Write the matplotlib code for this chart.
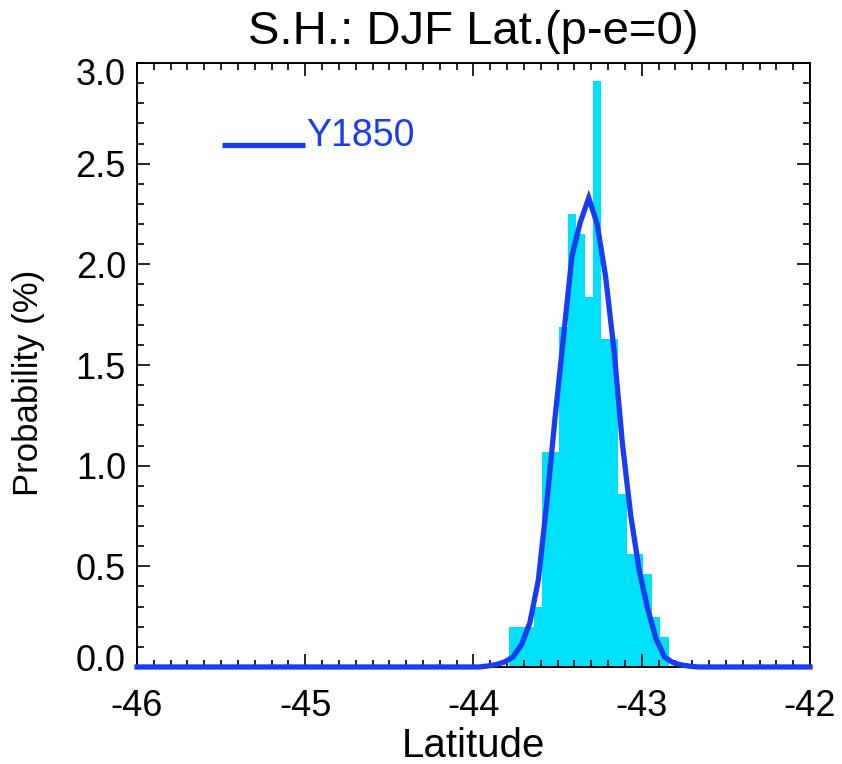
import matplotlib
matplotlib.use("Agg")
import matplotlib.pyplot as plt
from matplotlib.ticker import MultipleLocator
from matplotlib.transforms import ScaledTranslation
import numpy as np

plt.rcParams['font.family'] = ['Liberation Sans', 'DejaVu Sans']

# ---- data ----
bin_left_edges = [-43.79, -43.74, -43.69, -43.64, -43.59, -43.54, -43.49, -43.44,
                  -43.39, -43.34, -43.29, -43.24, -43.19, -43.14, -43.09, -43.04,
                  -42.99, -42.94, -42.89]
bin_width = 0.05
hist_prob = [0.20, 0.20, 0.20, 0.30, 1.07, 1.07, 1.69, 2.25,
             2.15, 1.84, 2.91, 1.63, 1.63, 0.86, 0.56, 0.56,
             0.46, 0.25, 0.15]

curve_lat = [-46.0, -43.965, -43.915, -43.865, -43.815, -43.765, -43.715, -43.665,
             -43.615, -43.565, -43.515, -43.465, -43.415, -43.365, -43.315,
             -43.265, -43.215, -43.165, -43.115, -43.065, -43.015, -42.965,
             -42.915, -42.865, -42.815, -42.765, -42.715, -42.665, -42.0]
curve_prob = [0.0, 0.0, 0.005, 0.012, 0.025, 0.05, 0.11, 0.22,
              0.43, 0.81, 1.24, 1.64, 2.04, 2.21, 2.33,
              2.20, 1.94, 1.575, 1.11, 0.75, 0.48, 0.29,
              0.14, 0.05, 0.022, 0.01, 0.004, 0.0, 0.0]

series_label = "Y1850"
title = "S.H.: DJF Lat.(p-e=0)"
xlabel = "Latitude"
ylabel = "Probability (%)"
xticks = [-46, -45, -44, -43, -42]
yticks = [0.0, 0.5, 1.0, 1.5, 2.0, 2.5, 3.0]

bar_color = '#00E0F8'
line_color = '#1A3CF0'

# ---- figure ----
fig = plt.figure(figsize=(8.42, 7.64), dpi=100)
ax = fig.add_axes([0.1627, 0.127, 0.7993, 0.7905])

ax.bar(bin_left_edges, hist_prob, width=bin_width, align='edge',
       color=bar_color, linewidth=0, zorder=1)
ax.plot(curve_lat, curve_prob, color=line_color, linewidth=3.8,
        zorder=3, clip_on=False, solid_joinstyle='miter')

ax.set_xlim(-46, -42)
ax.set_ylim(0, 3.0)
ax.set_xticks(xticks)
ax.set_xticklabels([str(t) for t in xticks])
ax.set_yticks(yticks)
ax.set_yticklabels(["%.1f" % t for t in yticks])
ax.xaxis.set_minor_locator(MultipleLocator(0.1))
ax.yaxis.set_minor_locator(MultipleLocator(0.1))

ax.tick_params(which='both', direction='in', top=True, right=True,
               width=1.2, color='black')
ax.tick_params(which='major', length=9.5, labelsize=26)
ax.tick_params(which='minor', length=5)
ax.tick_params(axis='x', which='major', pad=16)
ax.tick_params(axis='y', which='major', pad=8)
for s in ax.spines.values():
    s.set_linewidth(1.4)
    s.set_zorder(2.5)

# IDL-like nudging of the end labels of the y axis
yt = ax.yaxis.get_major_ticks()
yt[0].label1.set_transform(yt[0].label1.get_transform() +
                           ScaledTranslation(0, 7 / 72, fig.dpi_scale_trans))
yt[-1].label1.set_transform(yt[-1].label1.get_transform() +
                            ScaledTranslation(0, -6 / 72, fig.dpi_scale_trans))

ax.set_title(title, fontsize=34, pad=14)
ax.set_xlabel(xlabel, fontsize=29, labelpad=2)
ax.set_ylabel(ylabel, fontsize=25)
ax.yaxis.set_label_coords(-0.136, 0.47)

# legend drawn IDL-style
ax.plot([0.126, 0.250], [0.864, 0.864], transform=ax.transAxes,
        color=line_color, linewidth=3.8, solid_capstyle='butt')
ax.text(0.252, 0.850, series_label, transform=ax.transAxes, color=line_color,
        fontsize=27, ha='left', va='bottom')

fig.savefig("out.png", dpi=100)
